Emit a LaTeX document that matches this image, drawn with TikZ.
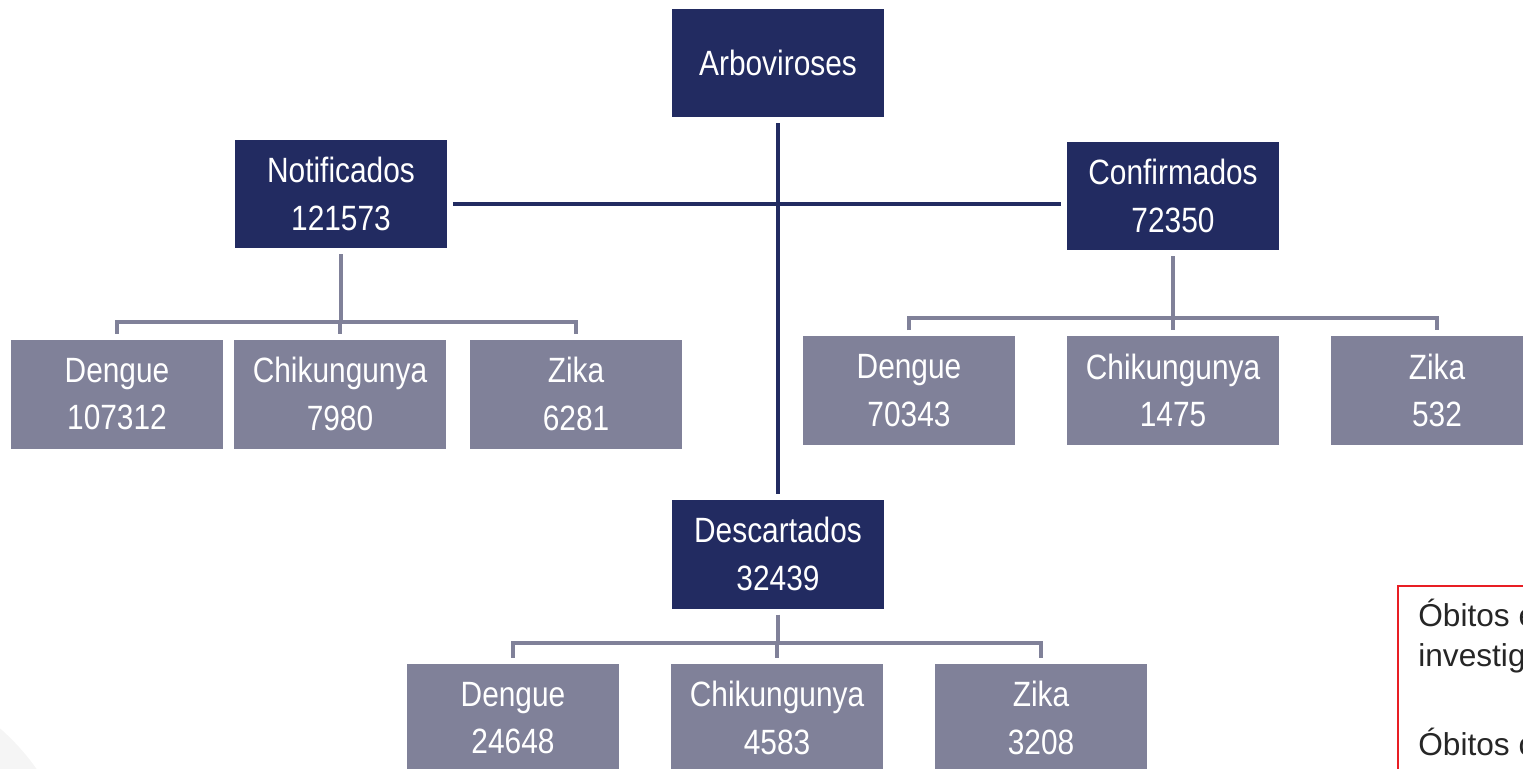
\documentclass[tikz,border=0pt]{standalone}
\usepackage{fontspec}
\setmainfont{Liberation Sans}[FakeStretch=0.85]
\newfontfamily\notefont{Liberation Sans}
\usepackage{xcolor}
\definecolor{navy}{RGB}{34,43,97}
\definecolor{slate}{RGB}{128,129,153}
\definecolor{boxred}{RGB}{232,30,36}
\tikzset{
	topbox/.style={fill=navy, text=white, minimum width=4.24cm, minimum height=2.18cm, inner sep=0pt, outer sep=0.12cm, align=center, font=\fontsize{20}{27}\selectfont},
	subbox/.style={topbox, fill=slate},
	mainline/.style={draw=navy, line width=2.8pt},
	subline/.style={draw=slate, line width=2.8pt}
}

\begin{document}
\begin{tikzpicture}[x=0.02cm, y=-0.02cm]
	
		\useasboundingbox (0,0) rectangle (1523,768);
		\clip (0,0) rectangle (1523,768);
		\fill[black!4] (-150,900) circle (4.56cm);
		
		% Top level
		\node[topbox] (arbo) at (778,63) {Arboviroses};
		\node[topbox] (notif) at (341,194) {Notificados\\121573};
		\node[topbox] (conf) at (1173,196) {Confirmados\\72350};
		\node[topbox] (desc) at (778,554) {Descartados\\32439};
		
		% Notificados
		\node[subbox] (nDen) at (117,394) {Dengue\\107312};
		\node[subbox] (nChi) at (340,394) {Chikungunya\\7980};
		\node[subbox] (nZik) at (576,394) {Zika\\6281};
		
		% Confirmados
		\node[subbox] (cDen) at (909,390.5) {Dengue\\70343};
		\node[subbox] (cChi) at (1173,390.5) {Chikungunya\\1475};
		\node[subbox] (cZik) at (1437,390.5) {Zika\\532};
		
		% Descartados
		\node[subbox] (dDen) at (513,718) {Dengue\\24648};
		\node[subbox] (dChi) at (777,718) {Chikungunya\\4583};
		\node[subbox] (dZik) at (1041,718) {Zika\\3208};
		
		% Connectors
		\coordinate (hub) at (778,204);
		\coordinate (nbar) at (341,322);
		\coordinate (cbar) at (1173,318);
		\coordinate (dbar) at (778,643);
		
		\draw[mainline] (arbo.south) -- (desc.north);
		\draw[mainline] (notif.east |- hub) -- (conf.west |- hub);
		
		\draw[subline] (notif.south) -- (nbar);
		\draw[subline] (nDen.north) -- (nDen.north |- nbar) -- (nZik.north |- nbar) -- (nZik.north);
		\draw[subline] (nChi.north |- nbar) -- (nChi.north);
		
		\draw[subline] (conf.south) -- (cbar);
		\draw[subline] (cDen.north) -- (cDen.north |- cbar) -- (cZik.north |- cbar) -- (cZik.north);
		\draw[subline] (cChi.north |- cbar) -- (cChi.north);
		
		\draw[subline] (desc.south) -- (dbar);
		\draw[subline] (dDen.north) -- (dDen.north |- dbar) -- (dZik.north |- dbar) -- (dZik.north);
		\draw[subline] (dChi.north |- dbar) -- (dChi.north);
		
		% Obitos
		\draw[boxred, line width=1.1pt] (1398,586) rectangle (1620,820);
		\node[anchor=north west, inner sep=0pt, align=left, text=black!85, font=\notefont\fontsize{18}{22.7}\selectfont] (obitos) at (1418,599) {Óbitos em\\investigação\\[28pt]Óbitos confirmados};
		
	\end{tikzpicture}
\end{document}
